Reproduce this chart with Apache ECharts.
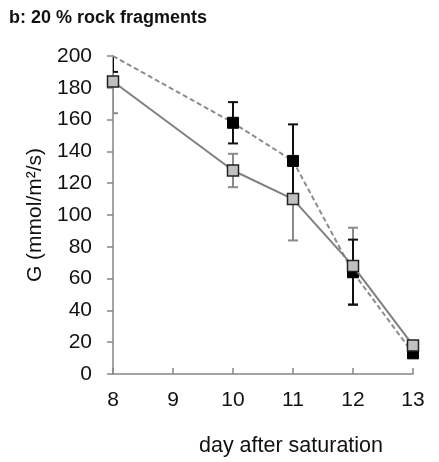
<!DOCTYPE html>
<html><head><meta charset="utf-8">
<script src="https://cdn.jsdelivr.net/npm/echarts@6/dist/echarts.min.js"></script>
<style>html,body{margin:0;padding:0;background:#fff}#c{width:439px;height:462px}</style>
</head><body><div id="c"></div>
<script>
const titleText = 'b: 20 % rock fragments';
const days = [8, 10, 11, 12, 13];
const darkMean = [200, 158, 134, 64, 13];
const darkErr = [10, 13, 23, 20.5, 2];
const greyMean = [184, 128, 110, 68, 18];
const greyErr = [20, 10.5, 26, 24, 2];
const xTicks = [8, 9, 10, 11, 12, 13];
const yTicks = [0, 20, 40, 60, 80, 100, 120, 140, 160, 180, 200];

const chart = echarts.init(document.getElementById('c'), null, {renderer: 'canvas'});

function errSeries(mean, err, color) {
  return {
    type: 'custom',
    clip: true,
    z: 1,
    data: days.map((d, i) => [d, mean[i] - err[i], mean[i] + err[i]]),
    renderItem: function (params, api) {
      const x = api.value(0);
      const lo = api.coord([x, api.value(1)]);
      const hi = api.coord([x, api.value(2)]);
      const w = 5;
      const st = {stroke: color, lineWidth: 2};
      return {type: 'group', children: [
        {type: 'line', shape: {x1: lo[0], y1: lo[1], x2: hi[0], y2: hi[1]}, style: st},
        {type: 'line', shape: {x1: lo[0] - w, y1: lo[1], x2: lo[0] + w, y2: lo[1]}, style: st},
        {type: 'line', shape: {x1: hi[0] - w, y1: hi[1], x2: hi[0] + w, y2: hi[1]}, style: st}
      ]};
    }
  };
}

const font = 'Liberation Sans, Arial, sans-serif';
chart.setOption({
  animation: false,
  backgroundColor: '#fff',
  title: {text: titleText, left: 4, top: 4,
    textStyle: {fontFamily: 'Liberation Sans, Arial, sans-serif', fontWeight: 'bold', fontSize: 18, color: '#111'}},
  grid: {left: 113, right: 26, top: 56, bottom: 88},
  xAxis: {
    type: 'value', min: 8, max: 13, interval: 1,
    name: 'day after saturation', nameLocation: 'middle', nameGap: 61,
    nameTextStyle: {fontFamily: font, fontSize: 21.5, color: '#111', padding: [0, 0, 0, 56]},
    axisLine: {lineStyle: {color: '#868686', width: 1.5}},
    axisTick: {inside: true, length: 6, lineStyle: {color: '#868686', width: 1.5}},
    axisLabel: {margin: 16, fontFamily: font, fontSize: 21, color: '#111',
      formatter: v => xTicks.includes(v) ? String(v) : ''},
    splitLine: {show: false}
  },
  yAxis: {
    type: 'value', min: 0, max: 200, interval: 20,
    name: 'G (mmol/m²/s)', nameLocation: 'middle', nameGap: 64,
    nameTextStyle: {fontFamily: font, fontSize: 21, color: '#111'},
    axisLine: {show: true, lineStyle: {color: '#868686', width: 1.5}},
    axisTick: {show: true, length: 6, lineStyle: {color: '#868686', width: 1.5}},
    axisLabel: {margin: 21, fontFamily: font, fontSize: 21, color: '#111',
      formatter: v => yTicks.includes(v) ? String(v) : ''},
    splitLine: {show: false}
  },
  series: [
    errSeries(greyMean, greyErr, '#8a8a8a'),
    errSeries(darkMean, darkErr, '#111'),
    {
      type: 'line', z: 3, clip: true,
      data: days.map((d, i) => d === 8 ? {value: [d, darkMean[i]], symbol: 'none'} : [d, darkMean[i]]),
      symbol: 'rect', symbolSize: 11,
      lineStyle: {color: '#8c8c8c', width: 2, type: [5, 3]},
      itemStyle: {color: '#000', borderColor: '#000', borderWidth: 1}
    },
    {
      type: 'line', z: 4, clip: true,
      data: days.map((d, i) => [d, greyMean[i]]),
      symbol: 'rect', symbolSize: 11,
      lineStyle: {color: '#808080', width: 2},
      itemStyle: {color: '#c0c0c0', borderColor: '#222', borderWidth: 1.5}
    }
  ]
});
</script></body></html>
